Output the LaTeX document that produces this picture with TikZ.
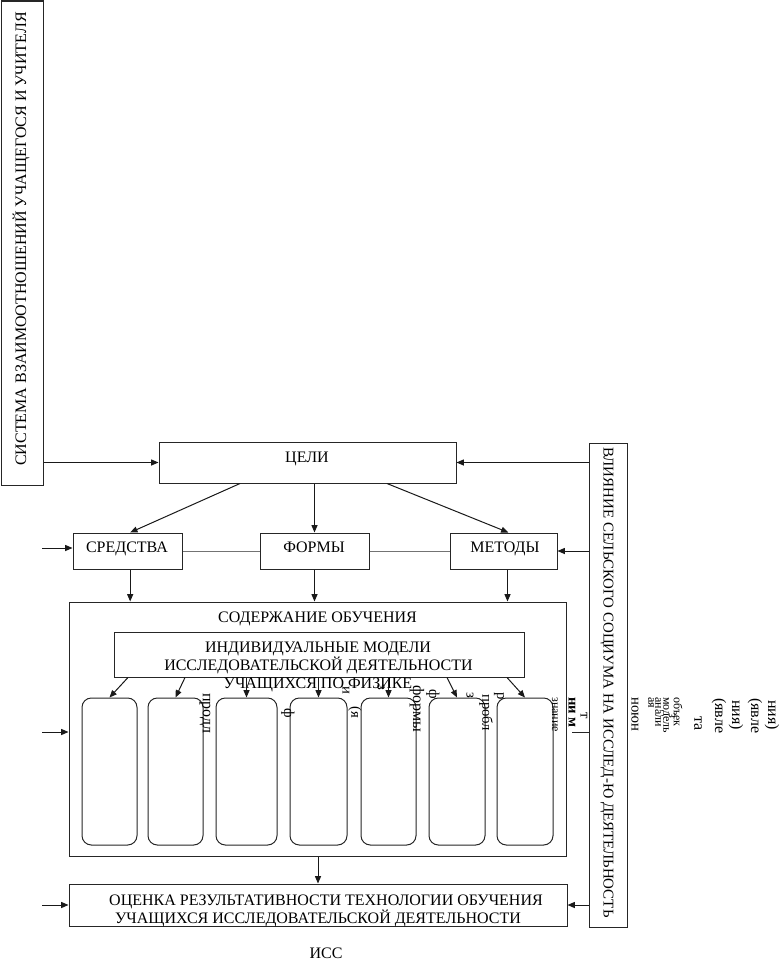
\documentclass[tikz,border=0pt]{standalone}
\usepackage{fontspec}
\setmainfont{Liberation Serif}
\usetikzlibrary{arrows.meta,fit,calc}
\begin{document}
\begin{tikzpicture}[x=0.75pt,y=-0.75pt,
  box/.style={draw=black!85,line width=0.75pt,inner sep=0pt},
  rbox/.style={box,rounded corners=7pt},
  arr/.style={draw=black!90,line width=0.75pt,-{Triangle[length=5.5pt,width=4.5pt]}},
  link/.style={draw=black!55,line width=0.75pt},
  lbl/.style={font=\fontsize{12pt}{13.8pt}\selectfont,inner sep=0pt,anchor=base},
  vlbl/.style={font=\fontsize{12pt}{13.8pt}\selectfont,inner sep=0pt},
  frag/.style={font=\fontsize{11pt}{11pt}\selectfont,inner sep=0pt,rotate=-90,anchor=west},
  bigfrag/.style={frag,font=\fontsize{12pt}{12pt}\selectfont},
  smallfrag/.style={frag,font=\fontsize{9pt}{9pt}\selectfont},
]
\fill[white] (0,0) rectangle (783,960);
\useasboundingbox (0,0) rectangle (783,960);

% side boxes
\node[box,fit={(1,1)(43,485)}] (sys) {};
\node[vlbl,rotate=90] (tsys) at (21,239) {СИСТЕМА ВЗАИМООТНОШЕНИЙ УЧАЩЕГОСЯ И УЧИТЕЛЯ};
\node[box,fit={(589,443)(627,927)}] (infl) {};
\node[vlbl,rotate=-90,font=\fontsize{11.2pt}{13pt}\selectfont] (tinfl) at (607,682.5) {ВЛИЯНИЕ СЕЛЬСКОГО СОЦИУМА НА ИССЛЕД-Ю ДЕЯТЕЛЬНОСТЬ};

% goals
\node[box,fit={(159,442)(456,483)}] (celi) {};
\node[lbl] (tceli) at (307,462) {ЦЕЛИ};

% means, forms, methods
\node[box,fit={(73,533)(182,569)}] (sr) {};
\node[lbl] (tsr) at (127,552) {СРЕДСТВА};
\node[box,fit={(260,533)(369,569)}] (fo) {};
\node[lbl] (tfo) at (314,552) {ФОРМЫ};
\node[box,fit={(450,533)(557,569)}] (me) {};
\node[lbl] (tme) at (505,552) {МЕТОДЫ};

% content
\node[box,fit={(69,602)(566,856)}] (cont) {};
\node[lbl] (tcont) at (317.5,622) {СОДЕРЖАНИЕ ОБУЧЕНИЯ};
\node[box,fit={(114,632)(524,677)}] (ind) {};
\node[lbl] (tind1) at (318,652) {ИНДИВИДУАЛЬНЫЕ МОДЕЛИ};
\node[lbl] (tind2) at (318.5,670) {ИССЛЕДОВАТЕЛЬСКОЙ ДЕЯТЕЛЬНОСТИ};
\node[lbl] (tind3) at (318,688) {УЧАЩИХСЯ ПО ФИЗИКЕ};
\foreach \a/\b [count=\i] in {82/137,148/203,216/277,290/347,361/416,429/485,497/553}
  \node[rbox,fit={(\a,698)(\b,845)}] (rb\i) {};

% evaluation
\node[box,fit={(69,884)(567,926)}] (ots) {};
\node[lbl] (tots1) at (326,905) {ОЦЕНКА РЕЗУЛЬТАТИВНОСТИ ТЕХНОЛОГИИ ОБУЧЕНИЯ};
\node[lbl] (tots2) at (318,923) {УЧАЩИХСЯ ИССЛЕДОВАТЕЛЬСКОЙ ДЕЯТЕЛЬНОСТИ};
\node[lbl] (tiss) at (326,958) {ИСС};

% free ends on the left
\coordinate (L1) at (42,548);
\coordinate (L2) at (42,732);
\coordinate (L3) at (42,905);
\coordinate (R1) at (572,732);

% connectors
\draw[arr] (sys.east |- celi.west) -- (celi.west);
\draw[arr] (infl.west |- celi.east) -- (celi.east);
\draw[arr] ([xshift=-50.6pt]celi.south) -- ([xshift=2pt]sr.north);
\draw[arr] (celi.south -| fo.north) -- (fo.north);
\draw[arr] ([xshift=59.6pt]celi.south) -- ([xshift=3.7pt]me.north);
\draw[link] (sr.east) -- (fo.west);
\draw[link] (fo.east) -- (me.west);
\draw[arr] (L1) -- (L1 -| sr.west);
\draw[arr] (infl.west |- me.east) -- (me.east);
\draw[arr] ([xshift=2pt]sr.south) coordinate (d1) -- (d1 |- cont.north);
\draw[arr] (fo.south) -- (fo.south |- cont.north);
\draw[arr] ([xshift=3pt]me.south) coordinate (d3) -- (d3 |- cont.north);
\draw[arr] (L2) -- (L2 -| cont.west);
\draw[line width=0.75pt,black!85] (R1) -- (R1 -| infl.west);
\draw[arr] ([xshift=-143.25pt]ind.south) -- (rb1.north);
\draw[arr] ([xshift=-100.5pt]ind.south) -- (rb2.north);
\draw[arr] (rb3.north |- ind.south) -- (rb3.north);
\draw[arr] (rb4.north |- ind.south) -- (rb4.north);
\draw[arr] (rb5.north |- ind.south) -- (rb5.north);
\draw[arr] ([xshift=96pt]ind.south) -- (rb6.north);
\draw[arr] ([xshift=141pt]ind.south) -- (rb7.north);
\draw[arr] (cont.south -| ots.north) -- (ots.north);
\draw[arr] (L3) -- (L3 -| ots.west);
\draw[arr] (infl.west |- ots.east) -- (ots.east);

% overflowing text fragments
\node[bigfrag] (f1) at (205,693) {продл};
\node[frag] (f2) at (288,708) {ф};
\node[frag] (f3) at (346,686) {и};
\node[frag] (f4) at (355,706) {(я};
\node[frag] (f5) at (381,684) {з};
\node[bigfrag] (f6) at (417,685) {формы};
\node[frag] (f7) at (433,689) {ф};
\node[frag] (f8) at (470,692) {з};
\node[frag] (f9) at (486,694) {пробл};
\node[frag] (f10) at (499,692) {р};
\node[smallfrag] (f11) at (555,697) {знание};
\node[frag,font=\bfseries\fontsize{11pt}{11pt}\selectfont] (f12) at (572,697) {ни м};
\node[frag] (f13) at (584,712) {т};
\node[frag] (g1) at (635,697) {ноюн};
\node[smallfrag] (g2) at (651,697) {ая};
\node[smallfrag] (g3) at (658,697) {анали};
\node[smallfrag] (g4) at (665,697) {модель};
\node[smallfrag] (g5) at (672,713) {з};
\node[smallfrag] (g6) at (678,697) {объек};
\node[bigfrag] (g7) at (698,716) {та};
\node[bigfrag] (g8) at (719,698) {(явле};
\node[bigfrag] (g9) at (736,700) {ния)};
\node[bigfrag] (g10) at (755,698) {(явле};
\node[bigfrag] (g11) at (772,700) {ния)};
\end{tikzpicture}
\end{document}
